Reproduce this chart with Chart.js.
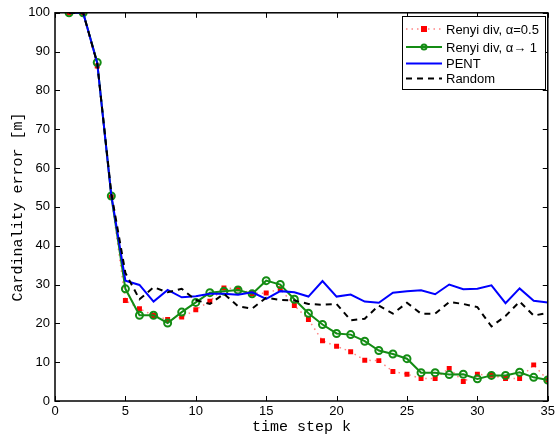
<!DOCTYPE html>
<html>
<head>
<meta charset="utf-8">
<script src="https://cdn.jsdelivr.net/npm/chart.js@4/dist/chart.umd.min.js"></script>
<style>
  html, body { margin: 0; padding: 0; background: #fff; }
  #wrap { width: 558px; height: 438px; }
</style>
</head>
<body>
<div id="wrap"><canvas id="chart" width="558" height="438"></canvas></div>
<script>
// time steps
const steps = [1, 2, 3, 4, 5, 6, 7, 8, 9, 10, 11, 12, 13, 14, 15, 16, 17, 18,
    19, 20, 21, 22, 23, 24, 25, 26, 27, 28, 29, 30, 31, 32, 33, 34, 35];

// cardinality error per method
const renyiHalf = [100, 100, 86.3, 52.5, 25.9, 23.8, 22.0, 21.0, 21.6, 23.5, 25.7, 29.1,
    28.9, 27.7, 27.8, 28.9, 24.6, 21.0, 15.5, 14.1, 12.7, 10.5, 10.4, 7.6, 6.9,
    5.8, 5.8, 8.4, 5.0, 6.9, 6.6, 5.8, 5.8, 9.3, 5.4];
const renyiOne = [100, 100, 87.2, 52.8, 28.9, 22.1, 22.1, 20.1, 22.9, 25.4, 27.9, 28.3,
    28.6, 27.6, 31.0, 30.0, 26.2, 22.6, 19.7, 17.4, 17.1, 15.4, 13.0, 12.1, 10.9,
    7.3, 7.3, 6.8, 6.9, 5.7, 6.6, 6.6, 7.4, 6.1, 5.4];
const pent = [100, 100, 87, 53, 31.0, 29.9, 25.6, 28.6, 26.7, 27.0, 27.6, 27.6,
    27.4, 28.0, 26.3, 28.3, 28.0, 26.9, 30.9, 26.9, 27.4, 25.6, 25.3, 27.9, 28.3,
    28.5, 27.5, 30.0, 28.8, 28.9, 29.8, 25.2, 29.0, 25.8, 25.4];
const random = [100, 100, 87, 53.5, 33, 26.2, 29.3, 28.0, 28.9, 26.0, 25.0, 27.6,
    24.4, 23.8, 26.6, 26.0, 25.9, 25.0, 24.8, 25.0, 20.8, 21.2, 24.6, 22.5, 25.3,
    22.5, 22.5, 25.5, 25.0, 24.2, 19.2, 21.9, 25.6, 22.0, 22.7];

const xTicks = [0, 5, 10, 15, 20, 25, 30, 35];
const yTicks = [0, 10, 20, 30, 40, 50, 60, 70, 80, 90, 100];

const legendLabels = ['Renyi div, \u03b1=0.5', 'Renyi div, \u03b1\u2192 1', 'PENT', 'Random'];

const RED = 'rgb(255,0,0)';
const GREEN = 'rgb(20,140,20)';
const BLUE = 'rgb(0,0,255)';
const BLACK = 'rgb(0,0,0)';

const toPoints = vals => steps.map((s, i) => ({ x: s, y: vals[i] }));

// MATLAB style box with inward ticks on all sides
const boxTicks = {
    id: 'boxTicks',
    afterDatasetsDraw(chart) {
        const { ctx, chartArea: a } = chart;
        const xs = chart.scales.x, ys = chart.scales.y;
        ctx.save();
        ctx.strokeStyle = '#000';
        ctx.lineWidth = 1;
        ctx.beginPath();
        xTicks.forEach(v => {
            const px = Math.round(xs.getPixelForValue(v)) + 0.5;
            ctx.moveTo(px, a.bottom); ctx.lineTo(px, a.bottom - 5);
            ctx.moveTo(px, a.top); ctx.lineTo(px, a.top + 5);
        });
        yTicks.forEach(v => {
            const py = Math.round(ys.getPixelForValue(v)) + 0.5;
            ctx.moveTo(a.left, py); ctx.lineTo(a.left + 5, py);
            ctx.moveTo(a.right, py); ctx.lineTo(a.right - 5, py);
        });
        ctx.stroke();
        ctx.lineWidth = 1.5;
        ctx.strokeRect(a.left, a.top, a.right - a.left, a.bottom - a.top);
        ctx.restore();
    }
};

// legend box in the top right corner
const boxLegend = {
    id: 'boxLegend',
    afterDraw(chart) {
        const ctx = chart.ctx;
        const left = 402, top = 16, w = 143, h = 73;
        const rows = [29, 47, 63.5, 78.5];
        ctx.save();
        ctx.fillStyle = '#fff';
        ctx.fillRect(left, top, w, h);
        ctx.strokeStyle = '#000';
        ctx.lineWidth = 1;
        ctx.strokeRect(left + 0.5, top + 0.5, w, h);
        chart.data.datasets.forEach((ds, i) => {
            const y = rows[i];
            ctx.strokeStyle = ds.borderColor;
            ctx.lineWidth = ds.borderWidth;
            ctx.setLineDash(ds.borderDash || []);
            ctx.beginPath();
            ctx.moveTo(406, y); ctx.lineTo(442, y);
            ctx.stroke();
            ctx.setLineDash([]);
            if (ds.pointStyle === 'rect') {
                ctx.fillStyle = ds.pointBackgroundColor;
                ctx.fillRect(421, y - 3, 6, 6);
            } else if (ds.pointRadius > 0) {
                ctx.strokeStyle = ds.pointBorderColor;
                ctx.lineWidth = 2;
                ctx.beginPath();
                ctx.arc(424, y, 2.5, 0, Math.PI * 2);
                ctx.stroke();
            }
            ctx.fillStyle = '#000';
            ctx.font = '13px "Liberation Sans", Arial, sans-serif';
            ctx.textBaseline = 'middle';
            ctx.fillText(legendLabels[i], 446, y + 1);
        });
        ctx.restore();
    }
};

new Chart(document.getElementById('chart'), {
    type: 'line',
    data: {
        datasets: [{
            label: legendLabels[0],
            data: toPoints(renyiHalf),
            borderColor: 'rgba(255,90,90,0.75)',
            borderWidth: 1.5,
            borderDash: [1.5, 4],
            pointStyle: 'rect',
            pointRadius: 3.5,
            pointBackgroundColor: RED,
            pointBorderColor: RED,
            pointBorderWidth: 0,
            order: 4
        }, {
            label: legendLabels[1],
            data: toPoints(renyiOne),
            borderColor: GREEN,
            borderWidth: 2,
            pointStyle: 'circle',
            pointRadius: 3.5,
            pointBackgroundColor: 'rgba(0,0,0,0)',
            pointBorderColor: GREEN,
            pointBorderWidth: 2,
            order: 3
        }, {
            label: legendLabels[2],
            data: toPoints(pent),
            borderColor: BLUE,
            borderWidth: 2,
            pointRadius: 0,
            order: 2
        }, {
            label: legendLabels[3],
            data: toPoints(random),
            borderColor: BLACK,
            borderWidth: 2,
            borderDash: [6, 5],
            pointRadius: 0,
            order: 1
        }]
    },
    options: {
        responsive: false,
        animation: false,
        events: [],
        layout: { padding: { top: 11, right: 9, left: 0, bottom: 0 } },
        elements: { line: { tension: 0, fill: false } },
        plugins: {
            legend: { display: false },
            tooltip: { enabled: false }
        },
        scales: {
            x: {
                type: 'linear',
                min: 0,
                max: 35,
                afterFit: s => { s.height = 37; },
                afterBuildTicks: s => { s.ticks = xTicks.map(v => ({ value: v })); },
                grid: { display: false, drawTicks: false },
                border: { display: false },
                ticks: {
                    color: '#000',
                    padding: 3,
                    maxRotation: 0,
                    font: { family: '"Liberation Sans", Arial, sans-serif', size: 13 }
                },
                title: {
                    display: true,
                    text: 'time step k',
                    color: '#000',
                    padding: { top: 0, bottom: 2 },
                    font: { family: '"Liberation Mono", "DejaVu Sans Mono", monospace', size: 15 }
                }
            },
            y: {
                type: 'linear',
                min: 0,
                max: 100,
                afterFit: s => { s.width = 55; },
                afterBuildTicks: s => { s.ticks = yTicks.map(v => ({ value: v })); },
                grid: { display: false, drawTicks: false },
                border: { display: false },
                ticks: {
                    color: '#000',
                    padding: 5,
                    font: { family: '"Liberation Sans", Arial, sans-serif', size: 13 }
                },
                title: {
                    display: true,
                    text: 'Cardinality error [m]',
                    color: '#000',
                    padding: { top: 9, bottom: 0 },
                    font: { family: '"Liberation Mono", "DejaVu Sans Mono", monospace', size: 15 }
                }
            }
        }
    },
    plugins: [boxTicks, boxLegend]
});
</script>
</body>
</html>
